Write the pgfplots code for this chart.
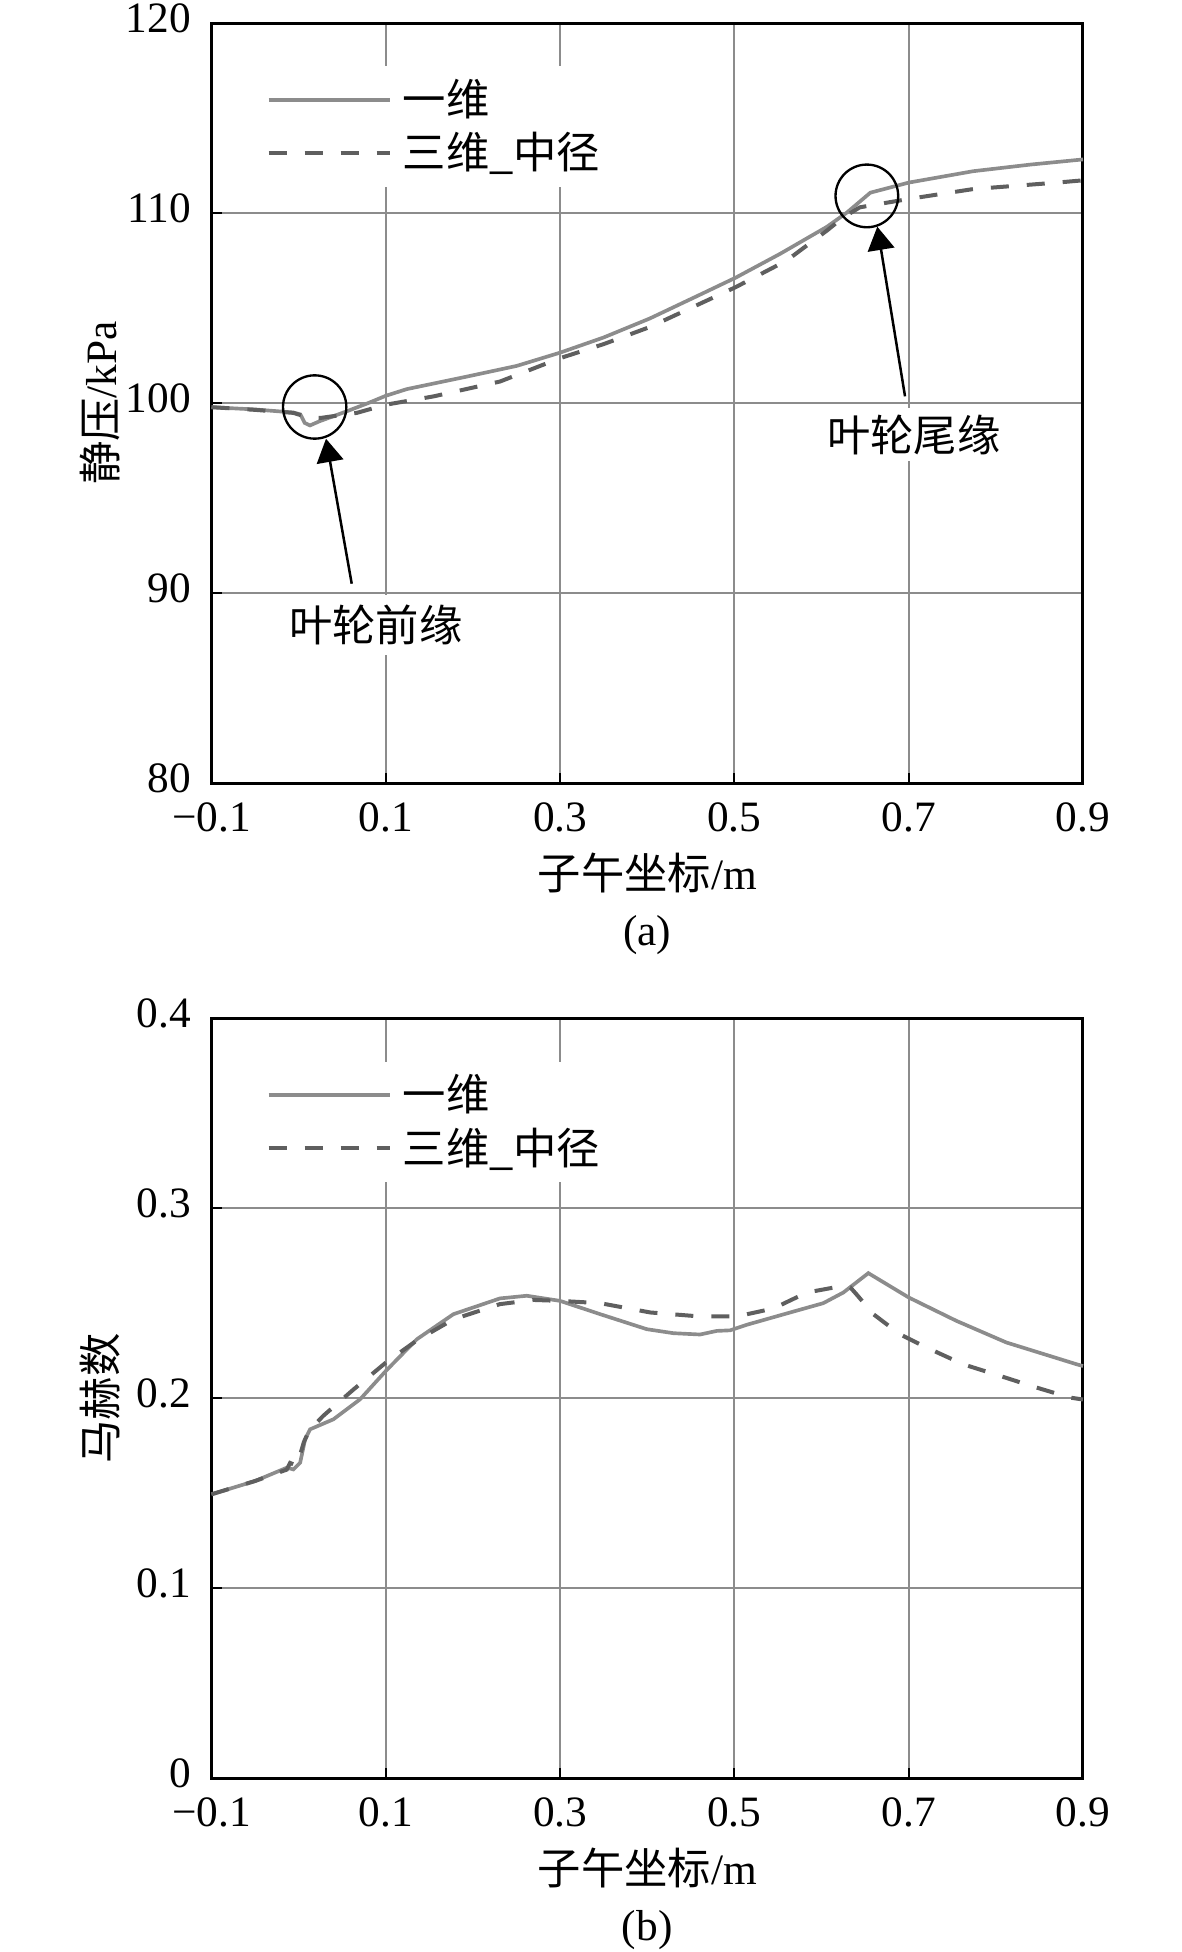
\documentclass[border=0pt]{standalone}
\usepackage{fontspec}
\setmainfont{Liberation Serif}
\newfontfamily\cjk{Noto Sans CJK SC}
\usepackage{pgfplots}
\pgfplotsset{compat=1.18}
\usetikzlibrary{arrows.meta}
\definecolor{solidgray}{RGB}{140,140,140}
\definecolor{dashgray}{RGB}{95,95,95}
\definecolor{gridgray}{RGB}{140,140,140}

\pgfplotsset{myax/.style={
  scale only axis, width=261.45pt, height=228pt,
  xmin=-0.1, xmax=0.9,
  xtick={-0.1,0.1,0.3,0.5,0.7,0.9},
  xticklabels={−0.1,0.1,0.3,0.5,0.7,0.9},
  grid=major, major grid style={gridgray, line width=0.6pt},
  axis line style={black, line width=0.9pt},
  tick pos=left, tick align=inside, major tick length=3pt,
  major tick style={black, line width=0.6pt},
  xticklabel style={anchor=center, yshift=-10.35pt},
  yticklabel style={anchor=east, inner sep=0pt, xshift=-6pt, yshift=1.5pt},
  xlabel={{\cjk 子午坐标}/m},
  xlabel style={at={(axis description cs:0.5,-0.118)}, anchor=center},
  ylabel style={at={(axis description cs:-0.128,0.5)}, anchor=center},
  clip=false,
  legend cell align=left,
  legend style={at={(axis description cs:0.0473,0.944)}, anchor=north west,
    draw=none, fill=white, inner xsep=4pt, inner ysep=3.8pt, row sep=3.5pt,
    nodes={inner sep=0pt, text height=11pt, text depth=1.5pt},
    /tikz/every odd column/.style={column sep=3.3pt}},
  legend image code/.code={\draw[##1] (0pt,0pt) -- (36.3pt,0pt);},
}}

\begin{document}
\fontsize{13pt}{15.6pt}\selectfont
\begin{tikzpicture}
\path[use as bounding box] (0,0) rectangle (354.3pt,-585.6pt);

% ---------------- (a) ----------------
\begin{axis}[myax, at={(63.45pt,-234.9pt)}, anchor=south west,
  ymin=80, ymax=120, ytick={80,90,100,110,120}, yticklabels={80,90,100,110,120},
  ylabel={{\cjk 静压}/kPa}]
\addplot[solidgray, line width=1.1pt] coordinates {
(-0.1,99.78) (-0.05,99.66) (-0.006,99.50) (0.002,99.40) (0.007,98.95) (0.013,98.82)
(0.024,99.04) (0.055,99.56) (0.08,100.0) (0.1,100.38) (0.124,100.73) (0.193,101.39)
(0.25,101.95) (0.3,102.65) (0.35,103.45) (0.403,104.45) (0.4605,105.70) (0.5016,106.6)
(0.5524,107.85) (0.606,109.27) (0.629,110.02) (0.656,111.07) (0.7,111.6) (0.774,112.2)
(0.84,112.55) (0.9,112.82)};
\addplot[dashgray, line width=1.2pt, dash pattern=on 5.4pt off 5.4pt] coordinates {
(-0.1,99.78) (-0.05,99.64) (-0.006,99.48) (0.01,99.25) (0.0245,99.21) (0.0667,99.48)
(0.1,99.91) (0.155,100.35) (0.231,101.13) (0.3,102.36) (0.35,103.1) (0.403,104.0)
(0.5016,106.1) (0.56,107.5) (0.606,109.07) (0.625,109.77) (0.644,110.3) (0.7,110.74)
(0.774,111.26) (0.87,111.6) (0.9,111.72)};
\legend{{\cjk 一维},{\cjk 三维\_中径}}
\draw[black, line width=0.7pt] (axis cs:0.0184,99.79) circle[radius=9.5pt];
\draw[black, line width=0.7pt] (axis cs:0.652,110.9) circle[radius=9.4pt];
\draw[black, line width=0.75pt, -{Triangle[length=7pt,width=8pt]}]
  (axis cs:0.0609,90.49) -- (axis cs:0.0314,98.12);
\draw[black, line width=0.75pt, -{Triangle[length=7pt,width=8pt]}]
  (axis cs:0.6958,100.35) -- (axis cs:0.664,109.28);
\node[fill=white, inner xsep=2pt, inner ysep=3pt] at (axis cs:0.0885,88.30) {\cjk 叶轮前缘};
\node[fill=white, inner xsep=2pt, inner ysep=2pt] at (axis cs:0.706,98.34) {\cjk 叶轮尾缘};
\node at (axis description cs:0.5,-0.2) {(a)};
\end{axis}

% ---------------- (b) ----------------
\begin{axis}[myax, at={(63.45pt,-533.5pt)}, anchor=south west,
  ymin=0, ymax=0.4, ytick={0,0.1,0.2,0.3,0.4}, yticklabels={0,0.1,0.2,0.3,0.4},
  ylabel={\cjk 马赫数}]
\addplot[solidgray, line width=1.1pt] coordinates {
(-0.1,0.1495) (-0.05,0.1565) (-0.0136,0.1635) (-0.006,0.1626) (0.0017,0.1661)
(0.0074,0.1784) (0.0131,0.1837) (0.040,0.189) (0.0705,0.1995) (0.1,0.2144)
(0.1356,0.2311) (0.1776,0.2443) (0.231,0.2526) (0.2618,0.2540) (0.3,0.2513)
(0.346,0.2443) (0.3995,0.2364) (0.430,0.2343) (0.4606,0.2336) (0.4798,0.2355)
(0.495,0.2358) (0.514,0.2387) (0.564,0.2452) (0.602,0.2501) (0.625,0.2557)
(0.6537,0.2659) (0.7,0.2531) (0.7547,0.2408) (0.8121,0.2294) (0.893,0.2179) (0.9,0.2170)};
\addplot[dashgray, line width=1.2pt, dash pattern=on 5.4pt off 5.4pt] coordinates {
(-0.1,0.1495) (-0.05,0.1565) (-0.0136,0.1625) (-0.0098,0.1660) (-0.002,0.1645)
(0.006,0.1770) (0.012,0.1830) (0.028,0.1907) (0.063,0.2047) (0.1,0.2188)
(0.1356,0.2305) (0.1776,0.2416) (0.231,0.2496) (0.2694,0.2518) (0.3,0.2513)
(0.346,0.2501) (0.4035,0.2452) (0.4606,0.2431) (0.5026,0.2431) (0.5448,0.2473)
(0.583,0.2557) (0.621,0.2589) (0.633,0.2584) (0.640,0.2548) (0.6595,0.2443)
(0.690,0.2337) (0.7207,0.2267) (0.7627,0.2179) (0.805,0.2118) (0.843,0.2062)
(0.885,0.2004) (0.9,0.1994)};
\legend{{\cjk 一维},{\cjk 三维\_中径}}
\node at (axis description cs:0.5,-0.2) {(b)};
\end{axis}
\end{tikzpicture}
\end{document}
